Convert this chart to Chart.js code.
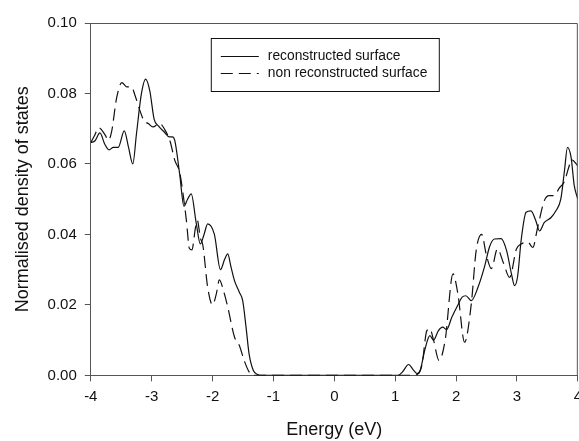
<!DOCTYPE html>
<html>
<head>
<meta charset="utf-8">
<script src="https://cdn.jsdelivr.net/npm/chart.js@4.4.1/dist/chart.umd.min.js"></script>
<style>
  html, body { margin: 0; padding: 0; background: #fff; overflow: hidden; }
  #wrap { position: relative; width: 588px; height: 441px; }
</style>
</head>
<body>
<div id="wrap"><canvas id="dos"></canvas></div>
<script>
// Density of states vs energy
const reconEnergy = [-4.00, -3.93, -3.85, -3.77, -3.70, -3.63, -3.55, -3.45, -3.38, -3.31, -3.25, -3.17, -3.10,
  -3.03, -2.96, -2.89, -2.79, -2.71, -2.66, -2.62, -2.54, -2.47, -2.41, -2.35, -2.27, -2.20, -2.14, -2.08,
  -1.97, -1.87, -1.80, -1.75, -1.70, -1.64, -1.56, -1.505, -1.45, -1.40, -1.33, -1.25, -1.20,
  1.05, 1.12, 1.22, 1.30, 1.36, 1.41, 1.49, 1.57, 1.63, 1.71, 1.78, 1.845, 1.93, 2.03, 2.10, 2.16, 2.25,
  2.36, 2.47, 2.55, 2.63, 2.74, 2.83, 2.91, 2.96, 3.01, 3.07, 3.15, 3.23, 3.31, 3.37, 3.45, 3.56, 3.64,
  3.72, 3.78, 3.83, 3.89, 3.94, 4.00];
const reconDos = [0.0661, 0.0666, 0.0688, 0.0656, 0.0640, 0.0647, 0.0647, 0.0694, 0.0647, 0.0600, 0.0685, 0.0798, 0.0841,
  0.0807, 0.0727, 0.0708, 0.0690, 0.0677, 0.0677, 0.0666, 0.0571, 0.0480, 0.0500, 0.0515, 0.0434, 0.0373, 0.0400, 0.0430,
  0.0400, 0.0300, 0.0330, 0.0345, 0.0310, 0.0269, 0.0236, 0.0212, 0.0137, 0.0061, 0.0014, 0.0002, 0.0,
  0.0, 0.0010, 0.0031, 0.0015, 0.0005, 0.0014, 0.0075, 0.0113, 0.0100, 0.0127, 0.0137, 0.0130, 0.0165, 0.0200, 0.0222, 0.0226, 0.0212,
  0.0250, 0.0310, 0.0365, 0.0387, 0.0388, 0.0354, 0.0288, 0.0255, 0.0280, 0.0385, 0.0463, 0.0467, 0.0439, 0.0410, 0.0434, 0.0448, 0.0467,
  0.0500, 0.0580, 0.0647, 0.0618, 0.0540, 0.0500];

const nonReconEnergy = [-4.00, -3.94, -3.87, -3.77, -3.71, -3.66, -3.575, -3.49, -3.41, -3.33, -3.28, -3.19, -3.13,
  -3.05, -2.98, -2.87, -2.79, -2.70, -2.62, -2.54, -2.47, -2.43, -2.38, -2.34, -2.28, -2.25, -2.20, -2.16,
  -2.08, -2.00, -1.94, -1.887, -1.82, -1.75, -1.64, -1.56, -1.48, -1.40, -1.34,
  1.30, 1.38, 1.44, 1.52, 1.57, 1.63, 1.72, 1.82, 1.95, 2.03, 2.14, 2.25, 2.33, 2.42, 2.50, 2.58, 2.68,
  2.78, 2.88, 2.99, 3.07, 3.18, 3.26, 3.34, 3.45, 3.53, 3.61, 3.70, 3.78, 3.85, 3.90, 4.00];
const nonReconDos = [0.0661, 0.0680, 0.0703, 0.0684, 0.0667, 0.0690, 0.0788, 0.0831, 0.0819, 0.0819, 0.0798, 0.0750, 0.0724,
  0.0714, 0.0705, 0.0715, 0.0699, 0.0666, 0.0610, 0.0576, 0.0496, 0.0440, 0.0360, 0.0356, 0.0420, 0.0440, 0.0390, 0.0370,
  0.0250, 0.0200, 0.0230, 0.0271, 0.0240, 0.0194, 0.0109, 0.0085, 0.0042, 0.0010, 0.0,
  0.0, 0.0005, 0.0030, 0.0127, 0.0132, 0.0100, 0.0042, 0.0099, 0.0288, 0.0231, 0.0094, 0.0203, 0.0354, 0.0400, 0.0340, 0.0303, 0.0359,
  0.0318, 0.0278, 0.0358, 0.0373, 0.0378, 0.0363, 0.0420, 0.0496, 0.0510, 0.0510, 0.0533, 0.0550, 0.0590, 0.0612, 0.0595];

const energyTicks = [-4, -3, -2, -1, 0, 1, 2, 3, 4];
const dosTicks = [0.00, 0.02, 0.04, 0.06, 0.08, 0.10];

const AXIS_COLOR = '#555';
const FONT = '"Liberation Sans", Arial, sans-serif';

function toPoints(xs, ys) {
  return xs.map((x, i) => ({ x, y: ys[i] }));
}

// Frame round the plot area (the reference is boxed)
const framePlugin = {
  id: 'frame',
  afterDraw(chart) {
    const { ctx, chartArea: a } = chart;
    ctx.save();
    ctx.strokeStyle = AXIS_COLOR;
    ctx.lineWidth = 1;
    ctx.beginPath();
    ctx.moveTo(a.left, a.top + 0.5);
    ctx.lineTo(a.right - 0.5, a.top + 0.5);
    ctx.lineTo(a.right - 0.5, a.bottom);
    ctx.stroke();
    ctx.restore();
  },
};

// Boxed legend inside the plot, like the original
const boxLegendPlugin = {
  id: 'boxLegend',
  afterDraw(chart) {
    const { ctx, chartArea: a } = chart;
    const left = a.left + 120, top = a.top + 15, w = 228, h = 53;
    ctx.save();
    ctx.fillStyle = '#fff';
    ctx.fillRect(left, top, w, h);
    ctx.strokeStyle = '#111';
    ctx.lineWidth = 1;
    ctx.strokeRect(left + 0.5, top + 0.5, w, h);
    ctx.font = '13.8px ' + FONT;
    ctx.textBaseline = 'middle';
    chart.data.datasets.forEach((ds, i) => {
      const y = top + 18 + i * 17;
      ctx.strokeStyle = ds.borderColor;
      ctx.lineWidth = ds.borderWidth;
      ctx.setLineDash(ds.borderDash || []);
      ctx.beginPath();
      ctx.moveTo(left + 10, y + 0.5);
      ctx.lineTo(left + 48, y + 0.5);
      ctx.stroke();
      ctx.setLineDash([]);
      ctx.fillStyle = '#111';
      ctx.fillText(ds.label, left + 57, y);
    });
    ctx.restore();
  },
};

new Chart(document.getElementById('dos'), {
  type: 'line',
  data: {
    datasets: [
      {
        label: 'reconstructed surface',
        data: toPoints(reconEnergy, reconDos),
        borderColor: '#111',
        borderWidth: 1.2,
        pointRadius: 0,
        cubicInterpolationMode: 'monotone',
      },
      {
        label: 'non reconstructed surface',
        data: toPoints(nonReconEnergy, nonReconDos),
        borderColor: '#111',
        borderWidth: 1.2,
        borderDash: [12, 6],
        pointRadius: 0,
        cubicInterpolationMode: 'monotone',
      },
    ],
  },
  options: {
    responsive: true,
    maintainAspectRatio: false,
    animation: false,
    layout: { padding: { left: 12, top: 23, right: 0, bottom: 0 } },
    plugins: { legend: { display: false }, tooltip: { enabled: false } },
    scales: {
      x: {
        type: 'linear',
        min: -4,
        max: 4,
        afterBuildTicks: s => { s.ticks = energyTicks.map(v => ({ value: v })); },
        ticks: { color: '#111', font: { family: FONT, size: 15 }, padding: 6 },
        grid: { drawOnChartArea: false, drawTicks: true, tickLength: 6, tickColor: AXIS_COLOR },
        border: { color: AXIS_COLOR, width: 1 },
        title: { display: true, text: 'Energy (eV)', color: '#111', font: { family: FONT, size: 18 }, padding: { top: 8, bottom: 0 } },
      },
      y: {
        min: 0,
        max: 0.1,
        afterBuildTicks: s => { s.ticks = dosTicks.map(v => ({ value: v })); },
        ticks: { color: '#111', font: { family: FONT, size: 15 }, padding: 8, callback: v => v.toFixed(2) },
        grid: { drawOnChartArea: false, drawTicks: true, tickLength: 6, tickColor: AXIS_COLOR },
        border: { color: AXIS_COLOR, width: 1 },
        title: { display: true, text: 'Normalised density of states', color: '#111', font: { family: FONT, size: 18 }, padding: { top: 0, bottom: 6 } },
      },
    },
  },
  plugins: [framePlugin, boxLegendPlugin],
});
</script>
</body>
</html>
